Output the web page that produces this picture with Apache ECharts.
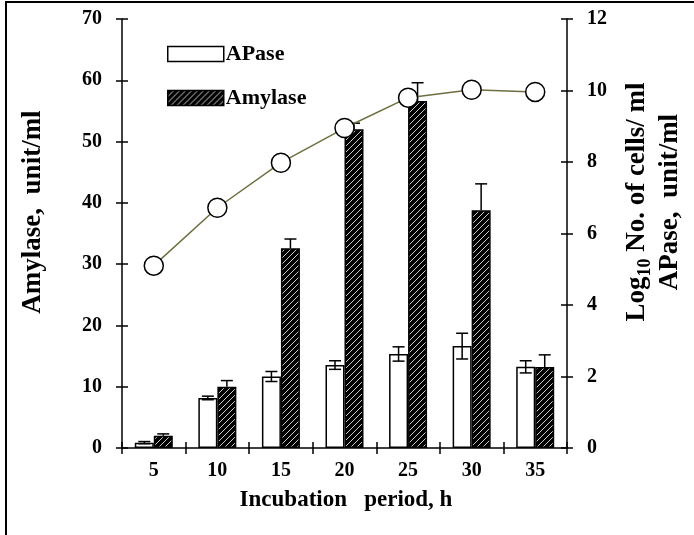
<!DOCTYPE html>
<html>
<head>
<meta charset="utf-8">
<script src="https://cdn.jsdelivr.net/npm/echarts@6/dist/echarts.min.js"></script>
<style>
  html, body { margin: 0; padding: 0; background: #fff; }
  #chart { width: 694px; height: 535px; }
</style>
</head>
<body>
<div id="chart"></div>
<script>
// Incubation period (h)
const periods = ['5', '10', '15', '20', '25', '30', '35'];
// APase activity, unit/ml (right axis) and its error
const apase = [0.15, 1.4, 2.0, 2.32, 2.63, 2.85, 2.27];
const apaseErr = [0.03, 0.05, 0.14, 0.12, 0.2, 0.36, 0.17];
// Amylase activity, unit/ml (left axis) and its error
const amylase = [2.0, 10.0, 32.6, 52.0, 56.6, 38.8, 13.2];
const amylaseErr = [0.3, 1.0, 1.5, 1.0, 3.0, 4.3, 2.0];
// Log10 number of cells / ml (right axis)
const cells = [5.1, 6.72, 7.98, 8.95, 9.8, 10.02, 9.96];

const leftTicks = { min: 0, max: 70, interval: 10 };
const rightTicks = { min: 0, max: 12, interval: 2 };

const serif = '"Liberation Serif", "Times New Roman", serif';
const BAR_W = 19;

// Black fill with thin white diagonal hatching for amylase bars
function hatchPattern() {
  const n = 6;
  const c = document.createElement('canvas');
  c.width = n; c.height = n;
  const g = c.getContext('2d');
  g.fillStyle = '#000';
  g.fillRect(0, 0, n, n);
  g.strokeStyle = '#fff';
  g.lineWidth = 0.8;
  g.beginPath();
  g.moveTo(-1, n + 1); g.lineTo(n + 1, -1);
  g.moveTo(-1, 1); g.lineTo(1, -1);
  g.moveTo(n - 1, n + 1); g.lineTo(n + 1, n - 1);
  g.stroke();
  return { image: c, repeat: 'repeat' };
}

// Error bar renderer: whisker with caps, shifted to its bar's centre
function errorBars(shift, upOnly) {
  return function (params, api) {
    const i = api.value(0);
    const v = api.value(1);
    const e = api.value(2);
    const top = api.coord([i, v + e]);
    const bot = api.coord([i, upOnly ? v : v - e]);
    const x = top[0] + shift;
    const cap = 6;
    const style = { stroke: '#000', lineWidth: 1.5 };
    const children = [
      { type: 'line', shape: { x1: x, y1: top[1], x2: x, y2: bot[1] }, style },
      { type: 'line', shape: { x1: x - cap, y1: top[1], x2: x + cap, y2: top[1] }, style }
    ];
    if (!upOnly) {
      children.push({ type: 'line', shape: { x1: x - cap, y1: bot[1], x2: x + cap, y2: bot[1] }, style });
    }
    return { type: 'group', children };
  };
}

const chart = echarts.init(document.getElementById('chart'), null, { renderer: 'canvas' });

const tickLabel = { color: '#000', fontFamily: serif, fontWeight: 'bold', fontSize: 20 };
const axisLine = { show: true, lineStyle: { color: '#000', width: 1.5 } };
const tickStyle = { color: '#000', width: 1.5 };

const option = {
  animation: false,
  backgroundColor: '#fff',
  grid: { left: 122, right: 127, top: 19, bottom: 87 },
  legend: {
    data: ['APase', 'Amylase'],
    orient: 'vertical',
    left: 167,
    top: 43,
    padding: 0,
    icon: 'rect',
    itemWidth: 56,
    itemHeight: 15,
    itemGap: 22,
    itemStyle: { borderColor: '#000', borderWidth: 1.5 },
    textStyle: { color: '#000', fontFamily: serif, fontWeight: 'bold', fontSize: 22, padding: [0, 0, 0, -3] }
  },
  xAxis: [
    {
      type: 'category', data: periods, position: 'bottom',
      axisLine: axisLine,
      axisTick: { show: true, length: 6, lineStyle: tickStyle },
      axisLabel: Object.assign({ margin: 13 }, tickLabel),
      splitLine: { show: false }
    },
    {
      type: 'category', data: periods, position: 'bottom',
      axisLine: { show: false },
      axisTick: { show: true, inside: true, length: 6, lineStyle: tickStyle },
      axisLabel: { show: false },
      splitLine: { show: false }
    }
  ],
  yAxis: [
    Object.assign({
      type: 'value', position: 'left',
      axisLine: axisLine,
      axisTick: { show: true, length: 6, lineStyle: tickStyle },
      axisLabel: Object.assign({ margin: 20 }, tickLabel),
      splitLine: { show: false }
    }, leftTicks),
    Object.assign({
      type: 'value', position: 'right',
      axisLine: axisLine,
      axisTick: { show: true, length: 6, lineStyle: tickStyle },
      axisLabel: Object.assign({ margin: 20 }, tickLabel),
      splitLine: { show: false }
    }, rightTicks),
    Object.assign({
      type: 'value', position: 'left',
      axisLine: { show: false },
      axisTick: { show: true, inside: true, length: 6, lineStyle: tickStyle },
      axisLabel: { show: false },
      splitLine: { show: false }
    }, leftTicks),
    Object.assign({
      type: 'value', position: 'right',
      axisLine: { show: false },
      axisTick: { show: true, inside: true, length: 6, lineStyle: tickStyle },
      axisLabel: { show: false },
      splitLine: { show: false }
    }, rightTicks)
  ],
  series: [
    {
      name: 'APase', type: 'bar', yAxisIndex: 1,
      data: apase, barWidth: BAR_W, barGap: '0%',
      itemStyle: { color: '#fff', borderColor: '#000', borderWidth: 1.5 },
      z: 2
    },
    {
      name: 'Amylase', type: 'bar', yAxisIndex: 0,
      data: amylase, barWidth: BAR_W, barGap: '0%',
      itemStyle: { color: hatchPattern(), borderColor: '#000', borderWidth: 1.5 },
      z: 2
    },
    {
      name: 'APase err', type: 'custom', yAxisIndex: 1,
      renderItem: errorBars(-BAR_W / 2, false),
      data: apase.map((v, i) => [i, v, apaseErr[i]]),
      z: 3
    },
    {
      name: 'Amylase err', type: 'custom', yAxisIndex: 0,
      renderItem: errorBars(BAR_W / 2, true),
      data: amylase.map((v, i) => [i, v, amylaseErr[i]]),
      z: 3
    },
    {
      name: 'Cells', type: 'line', yAxisIndex: 1,
      data: cells,
      symbol: 'circle', symbolSize: 19,
      lineStyle: { color: '#6e6e40', width: 1.5 },
      itemStyle: { color: '#fff', borderColor: '#000', borderWidth: 1.5 },
      z: 5
    }
  ],
  graphic: [
    {
      type: 'rect', silent: true,
      shape: { x: 6, y: 2, width: 700, height: 540 },
      style: { fill: 'none', stroke: '#000', lineWidth: 2 }
    },
    {
      type: 'text', x: 33, y: 212, rotation: Math.PI / 2,
      style: {
        text: 'Amylase,  unit/ml',
        fill: '#000', font: 'bold 27px ' + serif,
        align: 'center', verticalAlign: 'middle'
      }
    },
    {
      type: 'text', x: 654, y: 202, rotation: Math.PI / 2,
      style: {
        text: '{b|Log}{s|10}{b| No. of cells/ ml}\n{b|APase,  unit/ml}',
        fill: '#000',
        align: 'center', verticalAlign: 'middle',
        rich: {
          b: { fontFamily: serif, fontWeight: 'bold', fontSize: 27, lineHeight: 33, fill: '#000', align: 'center' },
          s: { fontFamily: serif, fontWeight: 'bold', fontSize: 18, lineHeight: 18, verticalAlign: 'bottom', fill: '#000' }
        }
      }
    },
    {
      type: 'text', x: 346, y: 500,
      style: {
        text: 'Incubation   period, h',
        fill: '#000', font: 'bold 23px ' + serif,
        align: 'center', verticalAlign: 'middle'
      }
    }
  ]
};

chart.setOption(option);
</script>
</body>
</html>
